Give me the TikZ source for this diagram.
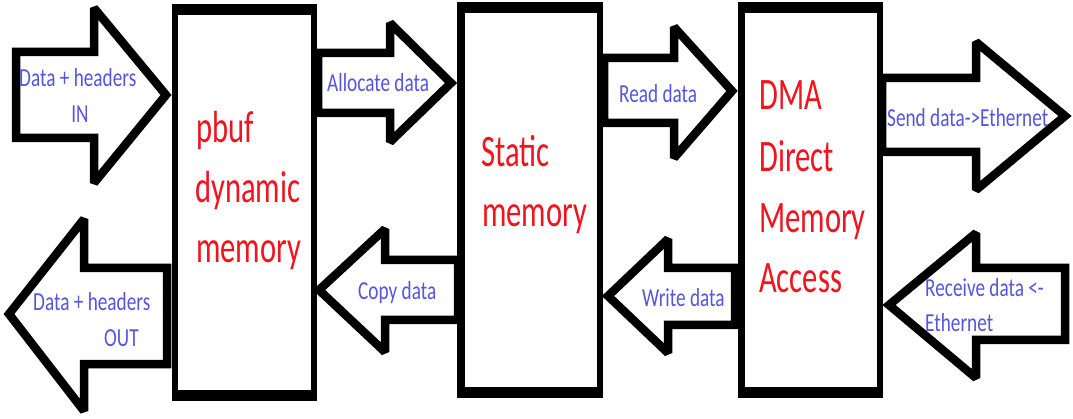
\documentclass[tikz,border=0pt]{standalone}
\usepackage{fontspec}
\setmainfont{Carlito}
\newfontfamily\flowfont[FakeStretch=0.74]{Carlito}
\newfontfamily\unitfont[FakeStretch=0.68]{Carlito}
\definecolor{flowblue}{RGB}{85,85,225}
\definecolor{unitred}{RGB}{240,20,30}

% fat outlined arrow: tail x, shaft y1, shaft y2, head back x, head y1, head y2, tip x, tip y
\newcommand\fatarrow[8]{%
  \draw[blockarrow] (#1,#2) -- (#4,#2) -- (#4,#5) -- (#7,#8) -- (#4,#6)
    -- (#4,#3) -- (#1,#3) -- cycle;}
% memory unit frame: outer x1,y1,x2,y2 then inner x1,y1,x2,y2
\newcommand\unitframe[8]{%
  \fill[black] (#1,#2) rectangle (#3,#4);
  \fill[white] (#5,#6) rectangle (#7,#8);}

\tikzset{
  blockarrow/.style={draw=black, fill=white, line width=8.5pt, line join=miter, miter limit=1.6},
  flowlabel/.style={inner sep=0pt, text=flowblue, font=\flowfont\fontsize{26}{30}\selectfont},
  unitlabel/.style={inner sep=0pt, text=unitred, font=\unitfont\fontsize{45}{50}\selectfont},
}

\begin{document}
\begin{tikzpicture}[x=1pt, y=-1pt]
\useasboundingbox (0,0) rectangle (1073,419);
\fill[white] (0,0) rectangle (1073,419);

% block arrows between the stages
\fatarrow{16}{52}{138}{94}{8}{183}{166}{95}
\fatarrow{167}{268}{364}{84}{219}{411}{9}{314}
\fatarrow{318}{53}{113}{390}{23}{142}{451}{83}
\fatarrow{458}{260}{320}{385}{229}{352}{319}{290}
\fatarrow{604}{58}{123}{674}{27}{158}{732}{91}
\fatarrow{882}{78}{152}{976}{42}{190}{1065}{116}
\fatarrow{735}{268}{325}{668}{239}{353}{608}{296}
\fatarrow{1065}{268}{340}{976}{233}{378}{889}{305}

% memory units
\unitframe{172}{4}{317}{401}{178}{15}{311}{390}
\unitframe{457}{2}{603}{398}{465}{13}{597}{387}
\unitframe{738}{2}{883}{398}{745}{13}{877}{387}

% unit titles
\node[unitlabel, anchor=base west] (pbuf1) at (196,143) {pbuf};
\node[unitlabel, anchor=base west] (pbuf2) at (195,203) {dynamic};
\node[unitlabel, anchor=base west] (pbuf3) at (196,263) {memory};
\node[unitlabel, anchor=base west] (stat1) at (481,167) {Static};
\node[unitlabel, anchor=base west] (stat2) at (482,227) {memory};
\node[unitlabel, anchor=base west] (dma1) at (759,110) {DMA};
\node[unitlabel, anchor=base west] (dma2) at (759,172) {Direct};
\node[unitlabel, anchor=base west] (dma3) at (759,233) {Memory};
\node[unitlabel, anchor=base west] (dma4) at (759,293) {Access};

% flow labels
\node[flowlabel, anchor=base west] (in1) at (19,87) {Data + headers};
\node[flowlabel, anchor=base] (in2) at (80,123) {IN};
\node[flowlabel, anchor=base west] (out1) at (33,311) {Data + headers};
\node[flowlabel, anchor=base west] (out2) at (104,347) {OUT};
\node[flowlabel, anchor=base west] (alloc) at (327,92) {Allocate data};
\node[flowlabel, anchor=base west] (copy) at (358,300) {Copy data};
\node[flowlabel, anchor=base west] (read) at (619,103) {Read data};
\node[flowlabel, anchor=base west] (send) at (887,127) {Send data->Ethernet};
\node[flowlabel, anchor=base west] (write) at (642,307) {Write data};
\node[flowlabel, anchor=base west] (recv1) at (925,297) {Receive data <-};
\node[flowlabel, anchor=base west] (recv2) at (925,332) {Ethernet};
\end{tikzpicture}
\end{document}
